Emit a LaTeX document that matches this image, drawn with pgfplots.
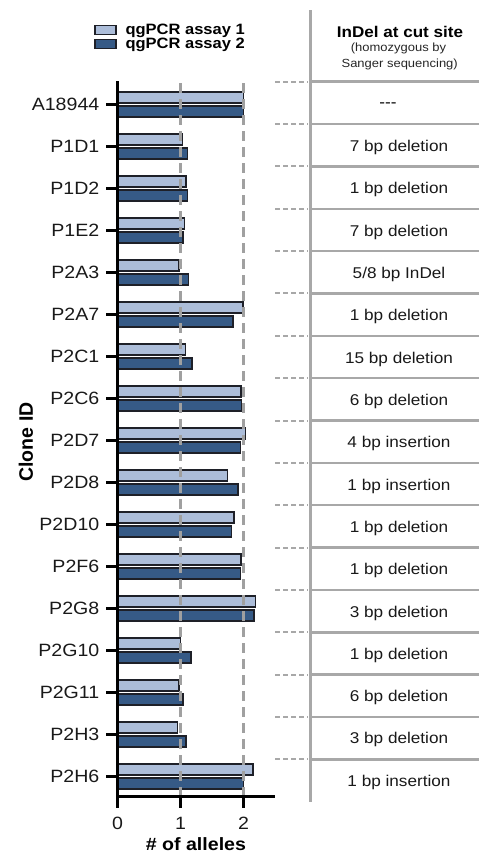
\documentclass[border=0pt]{standalone}
\usepackage{pgfplots}
\usepackage{pgfplotstable}
\pgfplotsset{compat=1.18}
\usepackage{fontspec}
\setmainfont{Liberation Sans}[FakeStretch=1.1]
\newfontfamily\plainsans{Liberation Sans}
\definecolor{lightbar}{RGB}{172,189,217}
\definecolor{darkbar}{RGB}{54,90,134}
\definecolor{baredge}{RGB}{30,32,40}
\definecolor{gridgray}{RGB}{160,160,160}
\definecolor{tabgray}{RGB}{168,168,168}

\pgfplotstableread{
idx a1 a2
16 2.00 2.00
15 1.03 1.11
14 1.09 1.11
13 1.06 1.04
12 0.98 1.13
11 1.99 1.83
10 1.08 1.18
9 1.96 1.97
8 2.03 1.95
7 1.75 1.91
6 1.85 1.81
5 1.96 1.95
4 2.19 2.17
3 1.00 1.17
2 0.98 1.04
1 0.95 1.09
0 2.15 2.00
}\alleles

\begin{document}
\begin{tikzpicture}
\useasboundingbox (0pt,0pt) rectangle (479pt,-854pt);
\begin{axis}[
  at={(117.5pt,-796.7pt)}, anchor=south west,
  scale only axis, width=157.5pt, height=715.7pt,
  xmin=0, xmax=2.5, ymin=-0.476, ymax=16.554,
  axis x line*=bottom, axis y line*=left,
  axis line style={line width=3pt, black, -},
  xtick={0,1,2}, ytick={0,...,16},
  yticklabels={P2H6,P2H3,P2G11,P2G10,P2G8,P2F6,P2D10,P2D8,P2D7,P2C6,P2C1,P2A7,P2A3,P1E2,P1D2,P1D1,A18944},
  tick align=outside, major tick length=11pt,
  major tick style={line width=3pt, black},
  /pgf/number format/assume math mode=true,
  yticklabel style={font=\fontsize{17.8}{21}\selectfont, inner sep=0pt, xshift=-7pt, text=black!90},
  xticklabel style={font=\fontsize{17.8}{21}\selectfont, inner sep=0pt, yshift=-9pt, text=black!90},
  xmajorgrids=true,
  major grid style={gridgray, line width=2.5pt, dash pattern=on 10pt off 6pt},
  axis on top,
  xlabel={\# of alleles},
  every axis x label/.style={at={(axis description cs:0.498,-0.0755)}, anchor=base, inner sep=0pt, font=\bfseries\fontsize{17.8}{20}\selectfont},
  ylabel={Clone ID},
  every axis y label/.style={at={(axis description cs:-0.581,0.4956)}, anchor=center, rotate=90, font=\plainsans\bfseries\fontsize{19.5}{22}\selectfont},
  xbar, bar width=11pt,
  clip=false,
  legend style={at={(axis description cs:-0.149,1.080)}, anchor=north west, draw=none, fill=none, inner sep=0pt, row sep=2pt, column sep=9pt, font=\bfseries\fontsize{15}{16}\selectfont, nodes={inner sep=0pt}},
  legend cell align=left,
  legend image code/.code={\draw[#1, line width=1.3pt] (0pt,-4.5pt) rectangle (21pt,4.5pt);},
]
\addplot[fill=lightbar, draw=baredge, line width=1.5pt, bar shift=7pt] table[x=a1, y=idx] {\alleles};
\addplot[fill=darkbar, draw=baredge, line width=1.5pt, bar shift=-7pt] table[x=a2, y=idx] {\alleles};
\legend{qgPCR assay 1, qgPCR assay 2}
\end{axis}

% table on the right
\draw[tabgray, line width=2.5pt] (310.7pt,-10pt) -- (310.7pt,-801.7pt);
\foreach \k in {0,...,16}{
  \pgfmathsetmacro{\yy}{81.7+\k*42.35}
  \draw[tabgray, line width=2.5pt] (310.7pt,-\yy pt) -- (479pt,-\yy pt);
  \draw[tabgray, line width=2pt, dash pattern=on 5pt off 3pt] (275pt,-\yy pt) -- (308pt,-\yy pt);
}
\node[font=\bfseries\fontsize{15.5}{17}\selectfont, anchor=center] at (400pt,-32pt) {InDel at cut site};
\node[font=\fontsize{11.8}{13}\selectfont, anchor=center, text=black!85] at (398.5pt,-48pt) {(homozygous by};
\node[font=\fontsize{11.8}{13}\selectfont, anchor=center, text=black!85] at (399.7pt,-64pt) {Sanger sequencing)};
\node[font=\fontsize{15.6}{18}\selectfont, anchor=center] at (388pt,-105pt) {-{}-{}-};
\foreach \lab [count=\k] in {7 bp deletion, 1 bp deletion, 7 bp deletion, 5/8 bp InDel, 1 bp deletion, 15 bp deletion, 6 bp deletion, 4 bp insertion, 1 bp insertion, 1 bp deletion, 1 bp deletion, 3 bp deletion, 1 bp deletion, 6 bp deletion, 3 bp deletion, 1 bp insertion}{
  \pgfmathsetmacro{\yy}{105+\k*42.33}
  \node[font=\fontsize{15.6}{18}\selectfont, anchor=center, text=black!90] at (399pt,-\yy pt) {\lab};
}
\end{tikzpicture}
\end{document}
